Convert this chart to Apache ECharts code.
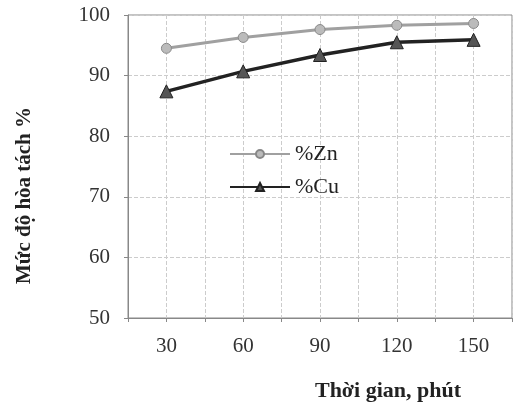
<!DOCTYPE html>
<html>
<head>
<meta charset="utf-8">
<script src="https://cdn.jsdelivr.net/npm/echarts@6/dist/echarts.min.js"></script>
<style>
  html, body { margin: 0; padding: 0; background: #fff; }
  #chart { width: 515px; height: 411px; }
</style>
</head>
<body>
<div id="chart"></div>
<script>
// thời gian (phút) và mức độ hòa tách
var times = [30, 60, 90, 120, 150]
var znValues = [94.5, 96.3, 97.6, 98.3, 98.6]
var cuValues = [87.4, 90.7, 93.4, 95.5, 95.9]
var yTicks = [50, 60, 70, 80, 90, 100]
var xLabels = [30, 60, 90, 120, 150]

var font = '"Liberation Serif", "DejaVu Serif", serif'

function pairs (xs, ys) {
  return xs.map(function (x, i) { return [x, ys[i]] })
}

var chart = echarts.init(document.getElementById('chart'))
chart.setOption({
  animation: false,
  grid: {
    left: 128,
    right: 3,
    top: 15,
    bottom: 93,
    show: true,
    borderColor: '#888',
    borderWidth: 1
  },
  legend: {
    orient: 'vertical',
    left: 224,
    top: 138,
    itemWidth: 60,
    itemHeight: 10,
    itemGap: 11,
    textStyle: { fontFamily: font, fontSize: 22, color: '#222' },
    data: ['%Zn', '%Cu']
  },
  xAxis: {
    type: 'value',
    min: 15,
    max: 165,
    interval: 15,
    name: 'Thời gian, phút',
    nameLocation: 'middle',
    nameGap: 62,
    nameTextStyle: {
      fontFamily: font, fontSize: 22, fontWeight: 'bold', color: '#222',
      padding: [0, 0, 0, 136]
    },
    axisLine: { lineStyle: { color: '#888' } },
    axisTick: { inside: false, length: 4, lineStyle: { color: '#888' } },
    axisLabel: {
      fontFamily: font, fontSize: 21, color: '#333', margin: 18,
      formatter: function (v) { return xLabels.indexOf(v) >= 0 ? String(v) : '' }
    },
    splitLine: { show: true, lineStyle: { color: '#ccc', type: 'dashed' } }
  },
  yAxis: {
    type: 'value',
    min: yTicks[0],
    max: yTicks[yTicks.length - 1],
    interval: 10,
    name: 'Mức độ hòa tách %',
    nameLocation: 'middle',
    nameGap: 93,
    nameRotate: 90,
    nameTextStyle: {
      fontFamily: font, fontSize: 21, fontWeight: 'bold', color: '#222',
      padding: [0, 58, 0, 0]
    },
    axisLine: { show: true, lineStyle: { color: '#888' } },
    axisTick: { show: true, length: 4, lineStyle: { color: '#888' } },
    axisLabel: { fontFamily: font, fontSize: 21, color: '#333', margin: 18 },
    splitLine: { show: true, lineStyle: { color: '#ccc', type: 'dashed' } }
  },
  series: [
    {
      name: '%Zn',
      type: 'line',
      data: pairs(times, znValues),
      symbol: 'circle',
      symbolSize: 10,
      itemStyle: { color: '#bbb', borderColor: '#888', borderWidth: 1 },
      lineStyle: { color: '#a0a0a0', width: 3 }
    },
    {
      name: '%Cu',
      type: 'line',
      data: pairs(times, cuValues),
      symbol: 'triangle',
      symbolSize: 13,
      itemStyle: { color: '#555', borderColor: '#222', borderWidth: 1 },
      lineStyle: { color: '#222', width: 3.5 }
    }
  ]
})
</script>
</body>
</html>
